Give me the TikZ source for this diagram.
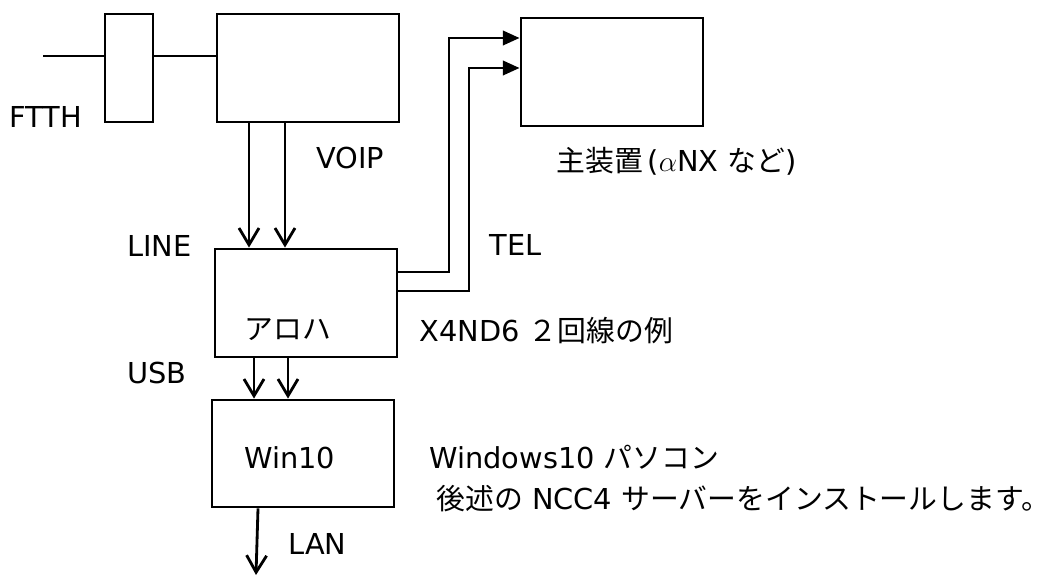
\documentclass[tikz,border=0pt]{standalone}
\usepackage{fontspec}
\setmainfont{DejaVu Sans}
\newfontfamily\jp{Noto Sans CJK JP}
\usetikzlibrary{arrows.meta}

\begin{document}
\begin{tikzpicture}[x=0.025cm, y=-0.025cm, line width=2pt,
    >={Straight Barb[length=4.2mm, width=5mm]},
    box/.style={draw, rectangle, minimum width=4.55cm, minimum height=2.7cm, inner sep=0pt},
    txt/.style={anchor=west, inner sep=0pt, font=\fontsize{20.5}{24}\selectfont},
    tel/.style={-{Triangle[length=4.2mm, width=3.6mm]}}]
    \useasboundingbox (0,0) rectangle (1050,577);

    % Boxes
    \node[box, minimum width=1.2cm] (conv) at (129,68) {};
    \node[box] (onu) at (308,68) {};
    \node[box] (pbx) at (612,72) {};
    \node[box] (aloha) at (306,303) {};
    \node[box, minimum height=2.675cm] (win) at (303,453.5) {};

    % Labels
    \node[txt] (ftth) at (8,117) {FTTH};
    \node[txt] (voip) at (315,158) {VOIP};
    \node[txt] (line) at (126,246) {LINE};
    \node[txt] (teltxt) at (488,245) {TEL};
    \node[txt] (pbxtxt) at (555,161) {{\jp 主装置}\,(\ensuremath{\alpha}NX {\jp など})};
    \node[txt] (alohatxt) at (243,330) {\jp アロハ};
    \node[txt] (model) at (418,331) {X4ND6 {\jp ２回線の例}};
    \node[txt] (usb) at (126,373) {USB};
    \node[txt] (wintxt) at (243,458) {Win10};
    \node[txt] (pc) at (428,457) {Windows10 {\jp パソコン}};
    \node[txt] (ncc) at (435,499) {{\jp 後述の} NCC4 {\jp サーバーをインストールします。}};
    \node[txt] (lan) at (287,544) {LAN};

    % FTTH line
    \coordinate (fiber) at (43,56);
    \draw (fiber) -- (fiber -| conv.west);
    \draw (conv.east |- fiber) -- (onu.west |- fiber);

    % VOIP / LINE
    \foreach \x in {249,285} {
        \draw[->] (\x,0 |- onu.south) -- (\x,0 |- aloha.north);
    }

    % TEL
    \draw[tel] (aloha.east |- 0,272) -- (449,272) -- (449,38) -- (pbx.west |- 0,38);
    \draw[tel] (aloha.east |- 0,291) -- (469,291) -- (469,68) -- (pbx.west |- 0,68);

    % USB
    \foreach \x in {254,288} {
        \draw[->] (\x,0 |- aloha.south) -- (\x,0 |- win.north);
    }

    % LAN
    \coordinate (lanend) at (256,575);
    \draw[->] (258,0 |- win.south) -- (lanend);
\end{tikzpicture}
\end{document}
